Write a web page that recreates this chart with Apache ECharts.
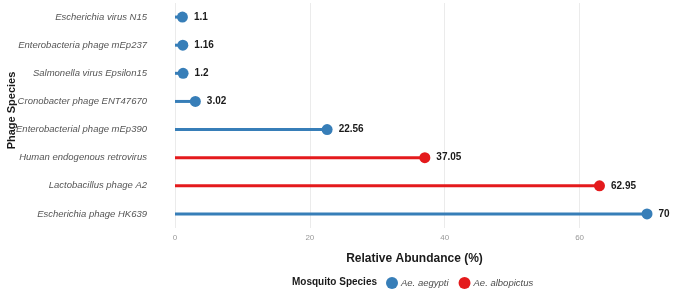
<!DOCTYPE html>
<html>
<head>
<meta charset="utf-8">
<script src="https://cdn.jsdelivr.net/npm/echarts@6/dist/echarts.min.js"></script>
<style>
  html, body { margin: 0; padding: 0; background: #fff; }
  #chart { width: 679px; height: 291px; }
</style>
</head>
<body>
<div id="chart"></div>
<script>
// top to bottom, as drawn
const phageNames = [
  'Escherichia virus N15',
  'Enterobacteria phage mEp237',
  'Salmonella virus Epsilon15',
  'Cronobacter phage ENT47670',
  'Enterobacterial phage mEp390',
  'Human endogenous retrovirus',
  'Lactobacillus phage A2',
  'Escherichia phage HK639',
]
const abundance = [1.1, 1.16, 1.2, 3.02, 22.56, 37.05, 62.95, 70]
const hostSpecies = [
  'Ae. aegypti', 'Ae. aegypti', 'Ae. aegypti', 'Ae. aegypti',
  'Ae. aegypti', 'Ae. albopictus', 'Ae. albopictus', 'Ae. aegypti',
]
const speciesNames = ['Ae. aegypti', 'Ae. albopictus']
const speciesColors = ['#377EB8', '#E41A1C']
const xTicks = [0, 20, 40, 60]

const FONT = '"Liberation Sans", Arial, sans-serif'

function valuesFor(species) {
  return abundance.map((v, i) => (hostSpecies[i] === species ? v : '-'))
}

function pointsFor(species) {
  return abundance
    .map((v, i) => [v, phageNames[i], hostSpecies[i]])
    .filter((p) => p[2] === species)
    .map((p) => [p[0], p[1]])
}

const stems = speciesNames.map((name, k) => ({
  name,
  type: 'bar',
  data: valuesFor(name),
  barWidth: 3,
  barGap: '-100%',
  itemStyle: { color: speciesColors[k] },
  silent: true,
}))

const heads = speciesNames.map((name, k) => ({
  name,
  type: 'scatter',
  data: pointsFor(name),
  symbolSize: 11,
  itemStyle: { color: speciesColors[k], opacity: 1 },
  label: {
    show: true,
    position: 'right',
    distance: 6,
    color: '#1a1a1a',
    fontFamily: FONT,
    fontWeight: 'bold',
    fontSize: 10,
    formatter: (p) => String(p.value[0]),
  },
  z: 3,
}))

const chart = echarts.init(document.getElementById('chart'), null, { renderer: 'canvas' })

chart.setOption({
  animation: false,
  title: {
    text: 'Mosquito Species',
    left: 292,
    top: 277,
    textStyle: { fontFamily: FONT, fontWeight: 'bold', fontSize: 10, color: '#1a1a1a' },
    padding: 0,
  },
  legend: {
    data: speciesNames.map((name) => ({ name, icon: 'circle' })),
    left: 386,
    top: 277,
    padding: 0,
    itemWidth: 12,
    itemHeight: 12,
    itemGap: 10,
    textStyle: { fontFamily: FONT, fontStyle: 'italic', fontSize: 9.5, color: '#4d4d4d', padding: [0, 0, 0, -2] },
  },
  grid: {
    left: 175,
    right: 5,
    top: 3,
    bottom: 63,
    outerBoundsMode: 'none',
    containLabel: false,
  },
  xAxis: {
    type: 'value',
    min: 0,
    max: 74,
    interval: 20,
    name: 'Relative Abundance (%)',
    nameLocation: 'middle',
    nameGap: 25,
    nameMoveOverlap: false,
    nameTextStyle: {
      fontFamily: FONT,
      fontWeight: 'bold',
      fontSize: 12,
      color: '#1a1a1a',
      padding: [0, 20, 0, 0],
    },
    axisLine: { show: false },
    axisTick: { show: false },
    axisLabel: {
      color: '#999',
      fontFamily: FONT,
      fontSize: 8,
      margin: 6,
      formatter: (v) => (xTicks.includes(v) ? String(v) : ''),
    },
    splitLine: { showMaxLine: false, lineStyle: { color: '#ebebeb', width: 1 } },
  },
  yAxis: {
    type: 'category',
    data: phageNames,
    inverse: true,
    name: 'Phage Species',
    nameLocation: 'middle',
    nameGap: 158,
    nameMoveOverlap: false,
    nameTextStyle: {
      fontFamily: FONT,
      fontWeight: 'bold',
      fontSize: 11,
      color: '#1a1a1a',
      padding: [0, 0, 0, 10],
    },
    axisLine: { show: false },
    axisTick: { show: false },
    splitLine: { show: false },
    axisLabel: {
      color: '#555',
      fontFamily: FONT,
      fontStyle: 'italic',
      fontSize: 9.5,
      margin: 28,
    },
  },
  series: [...stems, ...heads],
})
</script>
</body>
</html>
